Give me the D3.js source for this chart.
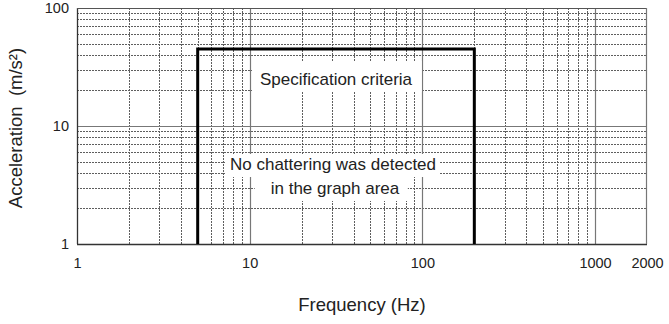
<!DOCTYPE html>
<html>
<head>
<meta charset="utf-8">
<script src="https://cdn.jsdelivr.net/npm/d3@7"></script>
<style>
  html, body { margin: 0; padding: 0; background: #fff; }
  svg { display: block; }
  .tick text { font-family: "Liberation Sans", Arial, sans-serif; fill: #222; }
</style>
</head>
<body>
<svg id="chart" width="669" height="324"></svg>
<script>
// Frequency / acceleration ranges and labelled ticks
const freqDomain = [1, 2000];
const accelDomain = [1, 100];
const freqTickLabels = [1, 10, 100, 1000, 2000];
const accelTickLabels = [1, 10, 100];

// Specification window: 5–200 Hz up to 45 m/s²
const specFreq = [5, 200];
const specAccel = 45;

const specLabel = "Specification criteria";
const noteLines = ["No chattering was detected", "in the graph area"];

const xTitle = "Frequency (Hz)";
const yTitle = "Acceleration\u00a0\u00a0(m/s\u00b2)";

const margin = { left: 77, right: 22, top: 8, bottom: 80 };
const W = 669, H = 324;

const svg = d3.select("#chart");
const x = d3.scaleLog().domain(freqDomain).range([margin.left, W - margin.right]);
const y = d3.scaleLog().domain(accelDomain).range([H - margin.bottom, margin.top]);

const [x0, x1] = x.range();
const [y0, y1] = [y(accelDomain[1]), y(accelDomain[0])];

const isDecade = v => Math.abs(Math.log10(v) - Math.round(Math.log10(v))) < 1e-9;

// Vertical grid: dotted minor lines within 1–1000 Hz, solid decade lines
const xMinor = x.ticks().filter(v => v < 1000 && !isDecade(v));
const xMajor = x.ticks().filter(v => v > 1 && v <= 1000 && isDecade(v));
const yMinor = y.ticks().filter(v => !isDecade(v));
const yMajor = y.ticks().filter(v => v > 1 && v < 100 && isDecade(v));

const minorColor = "#5e5e5e";
const grid = svg.append("g");
grid.selectAll(".hminor").data(yMinor).join("line")
  .attr("x1", x0).attr("x2", x1)
  .attr("y1", d => Math.round(y(d)) + 0.5).attr("y2", d => Math.round(y(d)) + 0.5)
  .attr("stroke", minorColor).attr("stroke-width", 1).attr("stroke-dasharray", "2,1");
grid.selectAll(".vminor").data(xMinor).join("line")
  .attr("y1", y0).attr("y2", y1)
  .attr("x1", d => Math.round(x(d)) + 0.5).attr("x2", d => Math.round(x(d)) + 0.5)
  .attr("stroke", minorColor).attr("stroke-width", 1).attr("stroke-dasharray", "2,1");
grid.selectAll(".hmajor").data(yMajor).join("line")
  .attr("x1", x0).attr("x2", x1)
  .attr("y1", d => Math.round(y(d)) + 0.5).attr("y2", d => Math.round(y(d)) + 0.5)
  .attr("stroke", "#777").attr("stroke-width", 1.2);
grid.selectAll(".vmajor").data(xMajor).join("line")
  .attr("y1", y0).attr("y2", y1)
  .attr("x1", d => Math.round(x(d)) + 0.5).attr("x2", d => Math.round(x(d)) + 0.5)
  .attr("stroke", "#777").attr("stroke-width", 1.2);

// Plot frame
svg.append("line").attr("x1", x0 + 0.5).attr("x2", x0 + 0.5).attr("y1", y0).attr("y2", y1)
  .attr("stroke", "#333").attr("stroke-width", 1.3);
svg.append("line").attr("x1", x0).attr("x2", x1).attr("y1", y1 + 0.5).attr("y2", y1 + 0.5)
  .attr("stroke", "#333").attr("stroke-width", 1.3);
svg.append("line").attr("x1", x0).attr("x2", x1).attr("y1", y0 + 0.5).attr("y2", y0 + 0.5)
  .attr("stroke", "#555").attr("stroke-width", 1.2);
svg.append("line").attr("x1", x1 - 0.5).attr("x2", x1 - 0.5).attr("y1", y0).attr("y2", y1)
  .attr("stroke", "#777").attr("stroke-width", 1.2);

// Specification window outline
const specPath = d3.path();
specPath.moveTo(x(specFreq[0]), y(accelDomain[0]));
specPath.lineTo(x(specFreq[0]), y(specAccel));
specPath.lineTo(x(specFreq[1]), y(specAccel));
specPath.lineTo(x(specFreq[1]), y(accelDomain[0]));
svg.append("path").attr("d", specPath.toString())
  .attr("fill", "none").attr("stroke", "#000").attr("stroke-width", 3)
  .attr("stroke-linejoin", "miter");

// Labels with white backing boxes
const labelFont = "Liberation Sans, Arial, sans-serif";
const centerFreq = Math.sqrt(specFreq[0] * specFreq[1]);
function boxedLabel(text, cx, baseline, pad) {
  const g = svg.append("g");
  const rect = g.append("rect").attr("fill", "#fff");
  const t = g.append("text")
    .attr("x", cx).attr("y", baseline)
    .attr("text-anchor", "middle")
    .attr("font-family", labelFont).attr("font-size", 17)
    .attr("fill", "#222").text(text);
  const b = t.node().getBBox();
  rect.attr("x", b.x - pad.l).attr("y", b.y - pad.t)
    .attr("width", b.width + pad.l + pad.r).attr("height", b.height + pad.t + pad.b);
}
boxedLabel(specLabel, x(centerFreq), 85, { l: 8, r: 9, t: 9, b: 3 });
boxedLabel(noteLines[0], x(centerFreq) - 3, 170, { l: 5, r: 4, t: 1, b: 3 });
boxedLabel(noteLines[1], x(centerFreq) - 1, 194, { l: 16, r: 8, t: 2, b: 3 });

// Tick labels
const xAxis = d3.axisBottom(x).tickValues(freqTickLabels).tickFormat(d3.format("d"))
  .tickSize(0).tickPadding(14);
svg.append("g").attr("transform", `translate(0,${y1})`).call(xAxis)
  .call(g => g.select(".domain").remove())
  .selectAll("text").attr("font-size", 14.5);

const yAxis = d3.axisLeft(y).tickValues(accelTickLabels).tickFormat(d3.format("d"))
  .tickSize(0).tickPadding(8);
svg.append("g").attr("transform", `translate(${x0},0)`).call(yAxis)
  .call(g => g.select(".domain").remove())
  .selectAll("text").attr("font-size", 14.5);

// Axis titles
svg.append("text")
  .attr("x", (x0 + x1) / 2).attr("y", 311)
  .attr("text-anchor", "middle")
  .attr("font-family", labelFont).attr("font-size", 18.5).attr("fill", "#222")
  .text(xTitle);
svg.append("text")
  .attr("transform", `translate(22,${(y0 + y1) / 2 + 2}) rotate(-90)`)
  .attr("text-anchor", "middle")
  .attr("font-family", labelFont).attr("font-size", 18.5).attr("fill", "#222")
  .text(yTitle);
</script>
</body>
</html>
